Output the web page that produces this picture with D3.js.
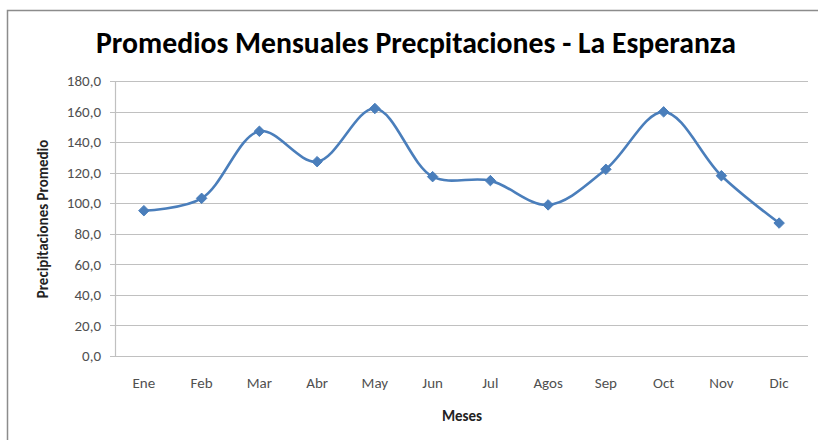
<!DOCTYPE html>
<html>
<head>
<meta charset="utf-8">
<script src="https://cdn.jsdelivr.net/npm/d3@7"></script>
<style>
  body { margin: 0; background: #fff; }
  svg { display: block; font-family: Carlito, "Liberation Sans Narrow", "Open Sans", sans-serif; }
</style>
</head>
<body>
<svg></svg>
<script>
/*global d3*/

// 月份
let meses = ['Ene', 'Feb', 'Mar', 'Abr', 'May', 'Jun', 'Jul', 'Agos', 'Sep', 'Oct', 'Nov', 'Dic'];

// 降水平均值
let promedios = [95.1, 103.2, 147.1, 127.2, 162.0, 117.4, 114.8, 98.9, 122.2, 159.8, 118.0, 87.0];

// 纵轴刻度
let ticksY = [0, 20, 40, 60, 80, 100, 120, 140, 160, 180];

let width = 818;
let height = 440;

let margin = { top: 81, left: 115, right: 10, bottom: 84 };

let innerWidth = width - margin.left - margin.right;
let innerHeight = height - margin.top - margin.bottom;

let svg = d3.select('svg')
    .attr('width', width)
    .attr('height', height);

// 外框（只露出左边和上边）
svg.append('path')
    .attr('d', 'M7.5,' + height + 'V10.5H' + width)
    .attr('fill', 'none')
    .attr('stroke', '#8c8c8c')
    .attr('stroke-width', 1.5);

let x = d3.scaleBand()
    .domain(meses)
    .range([0, innerWidth]);

let y = d3.scaleLinear()
    .domain([0, 180])
    .range([innerHeight, 0]);

let fmt = v => d3.format('.1f')(v).replace('.', ',');

let g = svg.append('g')
    .attr('transform', 'translate(' + margin.left + ',' + margin.top + ')');

// 网格线
g.append('g')
    .selectAll('line')
    .data(ticksY)
    .enter()
    .append('line')
    .attr('x1', -5)
    .attr('x2', innerWidth)
    .attr('y1', d => Math.round(y(d)) + 0.5)
    .attr('y2', d => Math.round(y(d)) + 0.5)
    .attr('stroke', '#c0c0c0')
    .attr('stroke-width', 1.2);

// 纵轴线
g.append('line')
    .attr('x1', 0.5).attr('x2', 0.5)
    .attr('y1', 0).attr('y2', innerHeight)
    .attr('stroke', '#c0c0c0')
    .attr('stroke-width', 1.2);

// 纵轴标签
g.append('g')
    .selectAll('text')
    .data(ticksY)
    .enter()
    .append('text')
    .attr('x', -14)
    .attr('y', d => y(d))
    .attr('dy', '0.35em')
    .attr('text-anchor', 'end')
    .attr('font-size', 15)
    .attr('fill', '#505050')
    .text(fmt);

// 横轴标签
g.append('g')
    .selectAll('text')
    .data(meses)
    .enter()
    .append('text')
    .attr('x', d => x(d) + x.bandwidth() / 2)
    .attr('y', innerHeight + 32)
    .attr('text-anchor', 'middle')
    .attr('font-size', 15)
    .attr('fill', '#505050')
    .text(d => d);

// 曲线
let line = d3.line()
    .x((d, i) => x(meses[i]) + x.bandwidth() / 2)
    .y(d => y(d))
    .curve(d3.curveCatmullRom.alpha(0.5));

g.append('path')
    .datum(promedios)
    .attr('d', line)
    .attr('fill', 'none')
    .attr('stroke', '#4a7ebb')
    .attr('stroke-width', 2.6);

// 菱形标记
let diamond = d3.symbol().type(d3.symbolDiamond2).size(70);

g.append('g')
    .selectAll('path')
    .data(promedios)
    .enter()
    .append('path')
    .attr('transform', (d, i) => 'translate(' + (x(meses[i]) + x.bandwidth() / 2) + ',' + y(d) + ')')
    .attr('d', diamond)
    .attr('fill', '#4a7ebb')
    .attr('stroke', '#4a7ebb')
    .attr('stroke-width', 1);

// 标题
svg.append('text')
    .attr('x', 416)
    .attr('y', 53)
    .attr('text-anchor', 'middle')
    .attr('font-size', 30)
    .attr('font-weight', 'bold')
    .attr('fill', '#000')
    .attr('textLength', 640)
    .attr('lengthAdjust', 'spacingAndGlyphs')
    .text('Promedios Mensuales Precpitaciones - La Esperanza');

// 横轴标题
svg.append('text')
    .attr('x', 462)
    .attr('y', 421)
    .attr('text-anchor', 'middle')
    .attr('font-size', 15)
    .attr('font-weight', 'bold')
    .attr('fill', '#222')
    .text('Meses');

// 纵轴标题
svg.append('text')
    .attr('transform', 'translate(48,219) rotate(-90)')
    .attr('text-anchor', 'middle')
    .attr('font-size', 15)
    .attr('font-weight', 'bold')
    .attr('fill', '#222')
    .text('Precipitaciones Promedio');
</script>
</body>
</html>
